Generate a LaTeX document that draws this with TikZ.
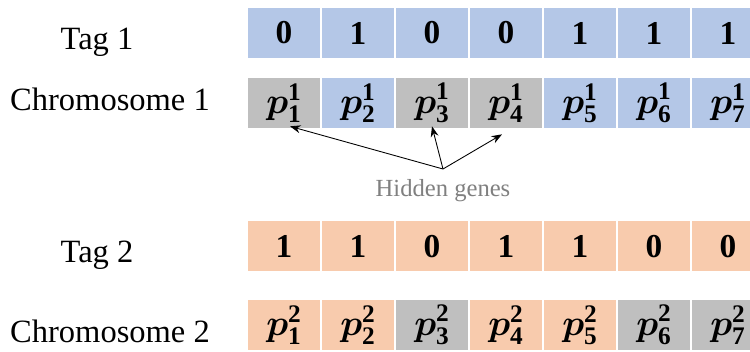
\documentclass[tikz,border=0pt]{standalone}
\usepackage{amsmath}
\usepackage{bm}
\usepackage{fontspec}
\setmainfont{Liberation Serif}
\usepackage{xcolor}
\usepackage{tikz}
\usetikzlibrary{arrows.meta, positioning, calc}

\definecolor{tagblue}{HTML}{B4C7E7}
\definecolor{tagorange}{HTML}{F8CBAD}
\definecolor{hiddengray}{HTML}{BFBFBF}
\definecolor{notegray}{HTML}{808080}

\begin{document}
\begin{tikzpicture}[
    cell/.style={minimum width=1.44cm, minimum height=1cm, inner sep=0pt, font=\fontsize{19}{22}\selectfont\bfseries},
    bluecell/.style={cell, fill=tagblue},
    orangecell/.style={cell, fill=tagorange},
    graycell/.style={cell, fill=hiddengray},
    gene/.style={font=\fontsize{20.74}{24}\selectfont},
    rowlabel/.style={anchor=base, font=\fontsize{18.5}{22}\selectfont},
    note/.style={anchor=base, text=notegray, font=\fontsize{14}{16}\selectfont},
    arrow/.style={-{Stealth[length=6pt, width=4.5pt]}, line width=0.5pt, black}
]

\clip (0,0) rectangle (15,7.04);

% Row labels
\node[rowlabel] (tag1_label)   at (1.94,6.04) {Tag 1};
\node[rowlabel] (chrom1_label) at (2.20,4.82) {Chromosome 1};
\node[rowlabel] (tag2_label)   at (1.94,1.78) {Tag 2};
\node[rowlabel] (chrom2_label) at (2.20,0.18) {Chromosome 2};

% Tag 1
\node[bluecell] (t1_1) at (5.68,6.38)  {0};
\node[bluecell] (t1_2) at (7.16,6.38)  {1};
\node[bluecell] (t1_3) at (8.64,6.38)  {0};
\node[bluecell] (t1_4) at (10.12,6.38) {0};
\node[bluecell] (t1_5) at (11.60,6.38) {1};
\node[bluecell] (t1_6) at (13.08,6.38) {1};
\node[bluecell] (t1_7) at (14.56,6.38) {1};

% Chromosome 1
\node[graycell, gene] (c1_1) at (5.68,4.98)  {$\bm{p}^{\mathbf{1}}_{\mathbf{1}}$};
\node[bluecell, gene] (c1_2) at (7.16,4.98)  {$\bm{p}^{\mathbf{1}}_{\mathbf{2}}$};
\node[graycell, gene] (c1_3) at (8.64,4.98)  {$\bm{p}^{\mathbf{1}}_{\mathbf{3}}$};
\node[graycell, gene] (c1_4) at (10.12,4.98) {$\bm{p}^{\mathbf{1}}_{\mathbf{4}}$};
\node[bluecell, gene] (c1_5) at (11.60,4.98) {$\bm{p}^{\mathbf{1}}_{\mathbf{5}}$};
\node[bluecell, gene] (c1_6) at (13.08,4.98) {$\bm{p}^{\mathbf{1}}_{\mathbf{6}}$};
\node[bluecell, gene] (c1_7) at (14.56,4.98) {$\bm{p}^{\mathbf{1}}_{\mathbf{7}}$};

% Hidden genes note
\coordinate (hidden_apex) at (8.86,3.66);
\node[note] (hidden_note) at (8.86,3.10) {Hidden genes};

\draw[arrow] (hidden_apex) -- ([xshift=0.12cm, yshift=0.04cm]c1_1.south);
\draw[arrow] (hidden_apex) -- ([yshift=0.04cm]c1_3.south);
\draw[arrow] (hidden_apex) -- ([xshift=-0.08cm, yshift=-0.12cm]c1_4.south);

% Tag 2
\node[orangecell] (t2_1) at (5.68,2.11)  {1};
\node[orangecell] (t2_2) at (7.16,2.11)  {1};
\node[orangecell] (t2_3) at (8.64,2.11)  {0};
\node[orangecell] (t2_4) at (10.12,2.11) {1};
\node[orangecell] (t2_5) at (11.60,2.11) {1};
\node[orangecell] (t2_6) at (13.08,2.11) {0};
\node[orangecell] (t2_7) at (14.56,2.11) {0};

% Chromosome 2
\node[orangecell, gene] (c2_1) at (5.68,0.54)  {$\bm{p}^{\mathbf{2}}_{\mathbf{1}}$};
\node[orangecell, gene] (c2_2) at (7.16,0.54)  {$\bm{p}^{\mathbf{2}}_{\mathbf{2}}$};
\node[graycell, gene]   (c2_3) at (8.64,0.54)  {$\bm{p}^{\mathbf{2}}_{\mathbf{3}}$};
\node[orangecell, gene] (c2_4) at (10.12,0.54) {$\bm{p}^{\mathbf{2}}_{\mathbf{4}}$};
\node[orangecell, gene] (c2_5) at (11.60,0.54) {$\bm{p}^{\mathbf{2}}_{\mathbf{5}}$};
\node[graycell, gene]   (c2_6) at (13.08,0.54) {$\bm{p}^{\mathbf{2}}_{\mathbf{6}}$};
\node[graycell, gene]   (c2_7) at (14.56,0.54) {$\bm{p}^{\mathbf{2}}_{\mathbf{7}}$};

\end{tikzpicture}
\end{document}
